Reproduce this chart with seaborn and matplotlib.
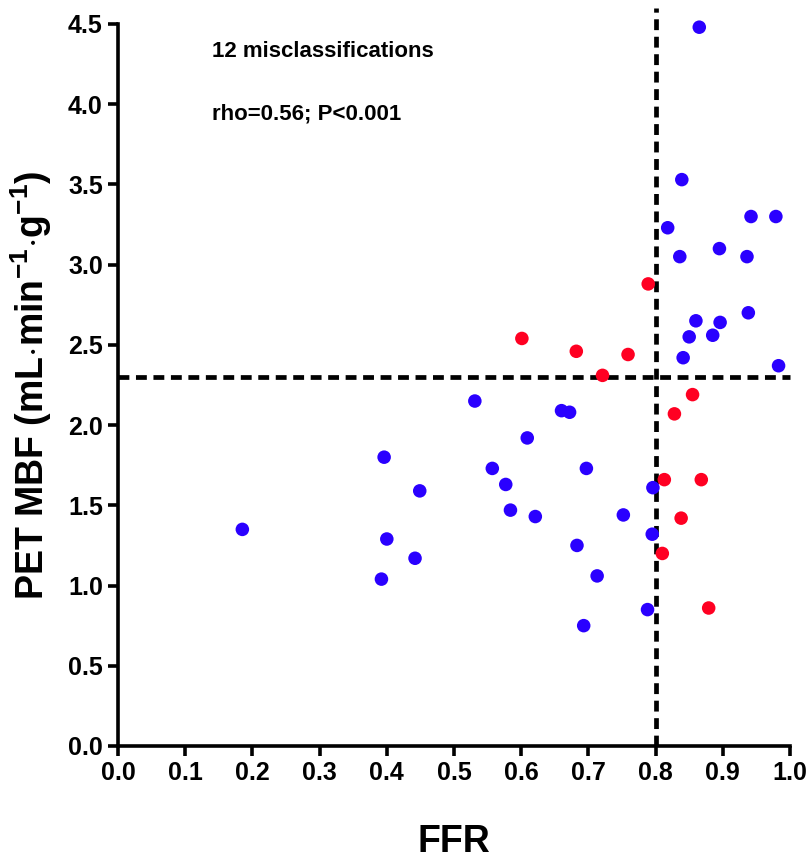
import matplotlib
matplotlib.use("Agg")
import matplotlib.pyplot as plt
import seaborn as sns
import pandas as pd

# FFR vs PET myocardial blood flow, concordant (blue) vs misclassified (red)
ffr_blue = [0.865, 0.839, 0.942, 0.979, 0.818, 0.895, 0.836, 0.936, 0.938, 0.860,
            0.896, 0.850, 0.885, 0.841, 0.983, 0.531, 0.660, 0.672, 0.609, 0.697,
            0.577, 0.796, 0.584, 0.621, 0.752, 0.795, 0.683, 0.713, 0.788, 0.693,
            0.396, 0.557, 0.449, 0.185, 0.400, 0.442, 0.392]
mbf_blue = [4.48, 3.53, 3.30, 3.30, 3.23, 3.10, 3.05, 3.05, 2.70, 2.65,
            2.64, 2.55, 2.56, 2.42, 2.37, 2.15, 2.09, 2.08, 1.92, 1.73,
            1.63, 1.61, 1.47, 1.43, 1.44, 1.32, 1.25, 1.06, 0.85, 0.75,
            1.80, 1.73, 1.59, 1.35, 1.29, 1.17, 1.04]

ffr_red = [0.789, 0.601, 0.682, 0.759, 0.721, 0.855, 0.828, 0.813, 0.868, 0.838, 0.810, 0.879]
mbf_red = [2.88, 2.54, 2.46, 2.44, 2.31, 2.19, 2.07, 1.66, 1.66, 1.42, 1.20, 0.86]

ffr_cutoff = 0.80
mbf_cutoff = 2.30

x_ticks = [0.0, 0.1, 0.2, 0.3, 0.4, 0.5, 0.6, 0.7, 0.8, 0.9, 1.0]
y_ticks = [0.0, 0.5, 1.0, 1.5, 2.0, 2.5, 3.0, 3.5, 4.0, 4.5]

df = pd.DataFrame({
    "FFR": ffr_blue + ffr_red,
    "MBF": mbf_blue + mbf_red,
    "group": ["concordant"] * len(ffr_blue) + ["misclassified"] * len(ffr_red),
})

sns.set_style("ticks", {"axes.edgecolor": "black", "text.color": "black",
                        "xtick.color": "black", "ytick.color": "black",
                        "axes.labelcolor": "black"})
plt.rcParams["font.family"] = ["Liberation Sans", "DejaVu Sans"]
plt.rcParams["font.weight"] = "bold"
plt.rcParams["mathtext.fontset"] = "custom"
plt.rcParams["mathtext.rm"] = "Liberation Sans:bold"
plt.rcParams["mathtext.bf"] = "Liberation Sans:bold"
plt.rcParams["mathtext.it"] = "Liberation Sans:bold"
plt.rcParams["axes.unicode_minus"] = False

fig = plt.figure(figsize=(8.09, 8.63), dpi=100)
ax = fig.add_axes([0.1459, 0.1356, 0.8306, 0.8366])

sns.scatterplot(data=df, x="FFR", y="MBF", hue="group",
                palette={"concordant": "#2a00ff", "misclassified": "#ff0022"},
                s=95, edgecolor="none", legend=False, ax=ax, clip_on=False, zorder=3)

ax.set_xlim(0, 1.0)
ax.set_ylim(0, 4.5)

# Threshold lines
ax.vlines(ffr_cutoff, 0, 4.6, colors="black", linewidth=3.4,
          linestyles=(0, (2.3, 1.4)), clip_on=False, zorder=2)
ax.hlines(mbf_cutoff, 0, 1.0, colors="black", linewidth=3.4,
          linestyles=(0, (2.3, 1.4)), clip_on=False, zorder=2)

ax.set_xticks(x_ticks)
ax.set_yticks(y_ticks)
ax.set_xticklabels([f"{v:.1f}" for v in x_ticks], fontsize=18, fontweight="bold")
ax.set_yticklabels([f"{v:.1f}" for v in y_ticks], fontsize=18, fontweight="bold")
ax.tick_params(axis="both", width=2.6, length=7, direction="out", pad=4, colors="black")

for side in ("left", "bottom"):
    ax.spines[side].set_linewidth(2.6)
    ax.spines[side].set_color("black")
for side in ("top", "right"):
    ax.spines[side].set_visible(False)

ax.set_xlabel("FFR", fontsize=27, fontweight="bold", labelpad=28, color="black")
ax.set_ylabel(r"PET MBF (mL$\cdot$min$^{-1}$$\cdot$g$^{-1}$)",
              fontsize=27, fontweight="bold", labelpad=10, color="black")

ax.text(0.14, 4.33, "12 misclassifications", fontsize=16, fontweight="bold",
        va="center", ha="left", color="black")
ax.text(0.14, 3.94, "rho=0.56; P<0.001", fontsize=16, fontweight="bold",
        va="center", ha="left", color="black")

fig.savefig("out.png", dpi=100)
